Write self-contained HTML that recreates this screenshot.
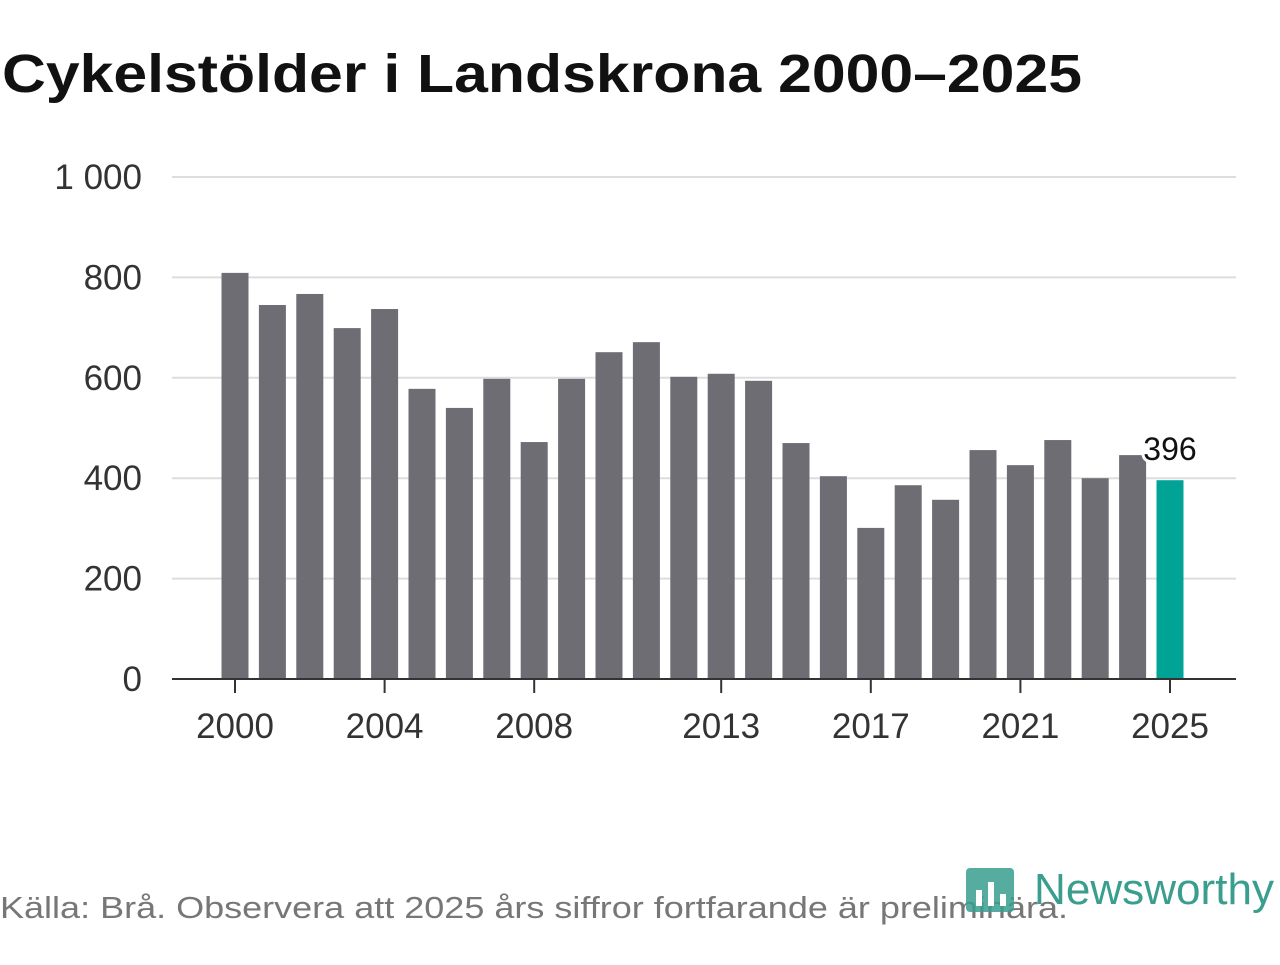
<!DOCTYPE html>
<html><head><meta charset="utf-8"><style>
body{margin:0;width:1280px;height:960px;background:#fff;font-family:"Liberation Sans","DejaVu Sans",sans-serif;overflow:hidden}
</style></head><body>
<svg width="1280" height="960">
<text x="2" y="92" font-size="54" font-weight="bold" fill="#111" textLength="1080" lengthAdjust="spacingAndGlyphs">Cykelstölder i Landskrona 2000–2025</text>
<g id="grid"></g><g id="bars"></g><g id="xaxis"></g>
<text x="0" y="918" font-size="31" fill="#777" textLength="1068" lengthAdjust="spacingAndGlyphs">Källa: Brå. Observera att 2025 års siffror fortfarande är preliminära.</text>
<g>
<rect x="966" y="868" width="48" height="44" rx="4" fill="#3a9e8f" opacity="0.85"/>
<rect x="976" y="890" width="6" height="16" fill="#fff"/><rect x="988" y="882" width="6" height="24" fill="#fff"/><rect x="1000" y="894" width="6" height="12" fill="#fff"/>
<text x="1034" y="904" font-size="44" fill="#3a9e8f" textLength="240" lengthAdjust="spacingAndGlyphs">Newsworthy</text>
</g>
</svg>
<script>
const years=[2000,2001,2002,2003,2004,2005,2006,2007,2008,2009,2010,2011,2012,2013,2014,2015,2016,2017,2018,2019,2020,2021,2022,2023,2024,2025];
const values=[809,745,767,699,737,578,540,598,472,598,651,671,602,608,594,470,404,301,386,357,456,426,476,400,446,396];
const yTicks=[0,200,400,600,800,1000];
const yTickLabels=["0","200","400","600","800","1 000"];
const xTicks=[2000,2004,2008,2013,2017,2021,2025];
const NS="http://www.w3.org/2000/svg";
const y=v=>679-v*0.502;
const x=yr=>235+(yr-2000)*37.4;
function mk(t,a,p){const e=document.createElementNS(NS,t);for(const k in a)e.setAttribute(k,a[k]);p.appendChild(e);return e;}
const g=document.getElementById('grid'),b=document.getElementById('bars'),xa=document.getElementById('xaxis');
yTicks.forEach((v,i)=>{
 if(v>0){const l=mk('line',{x1:172,x2:1236,y1:y(v),y2:y(v),stroke:'#ddd','stroke-width':2},g);
 
 }
 const t=mk('text',{x:142,y:y(v)+12,'font-size':35,fill:'#333','text-anchor':'end'},g);t.textContent=yTickLabels[i];
 
 
});
years.forEach((yr,i)=>{
 const last=i===years.length-1;
 const r=mk('rect',{x:x(yr)-13.5,y:y(values[i]),width:27,height:679-y(values[i]),fill:last?'#00a396':'#6e6d73'},b);
 
 
 if(last){const t=mk('text',{x:x(yr),y:y(values[i])-20,'font-size':32,fill:'#111','text-anchor':'middle',stroke:'#fff','stroke-width':6,'paint-order':'stroke'},b);t.textContent=values[i];
 
 }
});
const ax=mk('line',{x1:172,x2:1236,y1:679,y2:679,stroke:'#333','stroke-width':2},xa);


xTicks.forEach(yr=>{
 mk('line',{x1:x(yr),x2:x(yr),y1:679,y2:693,stroke:'#333','stroke-width':2},xa);
 const t=mk('text',{x:x(yr),y:738,'font-size':35,fill:'#333','text-anchor':'middle'},xa);t.textContent=yr;
 
 
});
</script>
</body></html>
